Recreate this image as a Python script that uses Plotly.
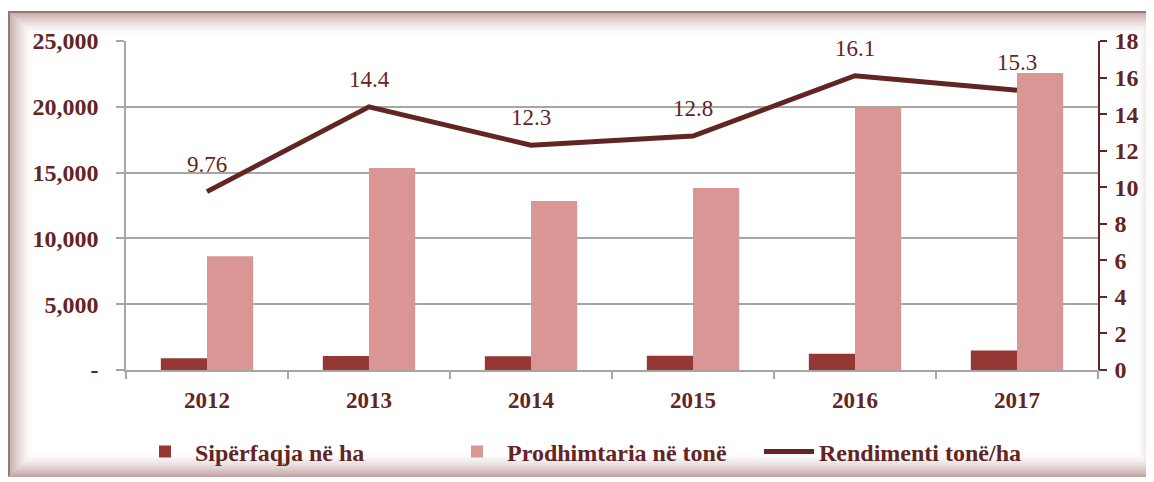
import plotly.graph_objects as go

years = ["2012", "2013", "2014", "2015", "2016", "2017"]
siperfaqja = [885, 1066, 1044, 1080, 1237, 1475]
prodhimtaria = [8640, 15350, 12840, 13830, 19910, 22570]
rendimenti = [9.76, 14.4, 12.3, 12.8, 16.1, 15.3]
rend_labels = ["9.76", "14.4", "12.3", "12.8", "16.1", "15.3"]
names = ["Sipërfaqja në ha", "Prodhimtaria në tonë", "Rendimenti tonë/ha"]
left_ticks = [0, 5000, 10000, 15000, 20000, 25000]
left_ticktext = ["-", "5,000", "10,000", "15,000", "20,000", "25,000"]
right_ticks = [0, 2, 4, 6, 8, 10, 12, 14, 16, 18]

C_AREA = "#953735"
C_PROD = "#D99694"
C_LINE = "#632523"
C_TEXT = "#632523"
GRID = "#A6A6A6"
FONT = "Liberation Serif"

OFF = 8  # default page body margin
W, H = 1154 - OFF, 482 - OFF
ML, MT = 126 - OFF, 41 - OFF
MR = W - (1098 - OFF)
MB = H - (370 - OFF)
PW, PH = W - ML - MR, H - MT - MB

def px_x(px):  # screen px -> paper
    return (px - OFF - ML) / PW

def px_y(py):
    return (H - MB - (py - OFF)) / PH

fig = go.Figure()
fig.add_trace(go.Bar(x=years, y=siperfaqja, name=names[0], marker_color=C_AREA,
                     marker_line_width=0))
fig.add_trace(go.Bar(x=years, y=prodhimtaria, name=names[1], marker_color=C_PROD,
                     marker_line_width=0))
fig.add_trace(go.Scatter(x=years, y=rendimenti, name=names[2], yaxis="y2",
                         mode="lines", line=dict(color=C_LINE, width=5)))

for i, (v, t) in enumerate(zip(rendimenti, rend_labels)):
    fig.add_annotation(x=i, xref="x", y=v, yref="y2", text=t, showarrow=False,
                       yanchor="bottom", yshift=13,
                       font=dict(family=FONT, size=23, color=C_TEXT))

# frame with soft maroon inner shadow
shapes = []
x0, y0, x1, y1 = 8, 11, 1160, 476
n = 12
for i in range(n):
    op = 0.42 * (1 - i / n) ** 1.6
    shapes.append(dict(type="rect", xref="paper", yref="paper", layer="below",
                       x0=px_x(x0 + 1 + i * 2), x1=px_x(x1 - i * 2),
                       y0=px_y(y1 - i * 2), y1=px_y(y0 + 1 + i * 2),
                       line=dict(color="rgba(120,40,40,%.3f)" % op, width=2),
                       fillcolor="rgba(0,0,0,0)"))
shapes.append(dict(type="line", xref="paper", yref="paper",
                   x0=px_x(x0 + 1), x1=px_x(x0 + 1), y0=px_y(y0), y1=px_y(y1),
                   line=dict(color="#8C7A7A", width=2)))
shapes.append(dict(type="line", xref="paper", yref="paper",
                   x0=px_x(x0), x1=px_x(x1), y0=px_y(y0 + 1), y1=px_y(y0 + 1),
                   line=dict(color="#8C7A7A", width=2)))

fig.update_layout(
    width=W, height=H,
    margin=dict(l=ML, r=MR, t=MT, b=MB, pad=0, autoexpand=False),
    paper_bgcolor="white", plot_bgcolor="white",
    barmode="group", bargap=0.43, bargroupgap=0,
    shapes=shapes,
    showlegend=True,
    legend=dict(orientation="h", x=px_x(135), xanchor="left", y=px_y(452), yanchor="middle",
                font=dict(family=FONT, size=24, color=C_TEXT, weight="bold"),
                entrywidth=247, entrywidthmode="pixels",
                itemwidth=50, bgcolor="rgba(0,0,0,0)", traceorder="normal"),
    xaxis=dict(type="category", range=[-0.5, len(years) - 0.5],
               showline=True, linecolor=GRID, linewidth=1.5,
               ticks="outside", tickson="boundaries", ticklen=7, tickcolor=GRID,
               tickwidth=1.5, showgrid=False, tickangle=0, ticklabelstandoff=9,
               tickfont=dict(family=FONT, size=23, color=C_TEXT, weight="bold")),
    yaxis=dict(range=[0, 25000], tickvals=left_ticks, ticktext=left_ticktext,
               showline=True, linecolor=GRID, linewidth=1.5,
               ticks="outside", ticklen=8, tickcolor=GRID, tickwidth=1.5,
               showgrid=True, gridcolor=GRID, gridwidth=1.5, zeroline=False,
               ticklabelstandoff=13,
               tickfont=dict(family=FONT, size=24, color=C_TEXT, weight="bold")),
    yaxis2=dict(range=[0, 18], tickvals=right_ticks, overlaying="y", side="right",
                showline=True, linecolor=C_LINE, linewidth=1.5,
                ticks="outside", ticklen=7, tickcolor=C_LINE, tickwidth=1.5,
                showgrid=False, zeroline=False, ticklabelstandoff=3,
                tickfont=dict(family=FONT, size=24, color=C_TEXT, weight="bold")),
)

fig.write_html("out.html")
